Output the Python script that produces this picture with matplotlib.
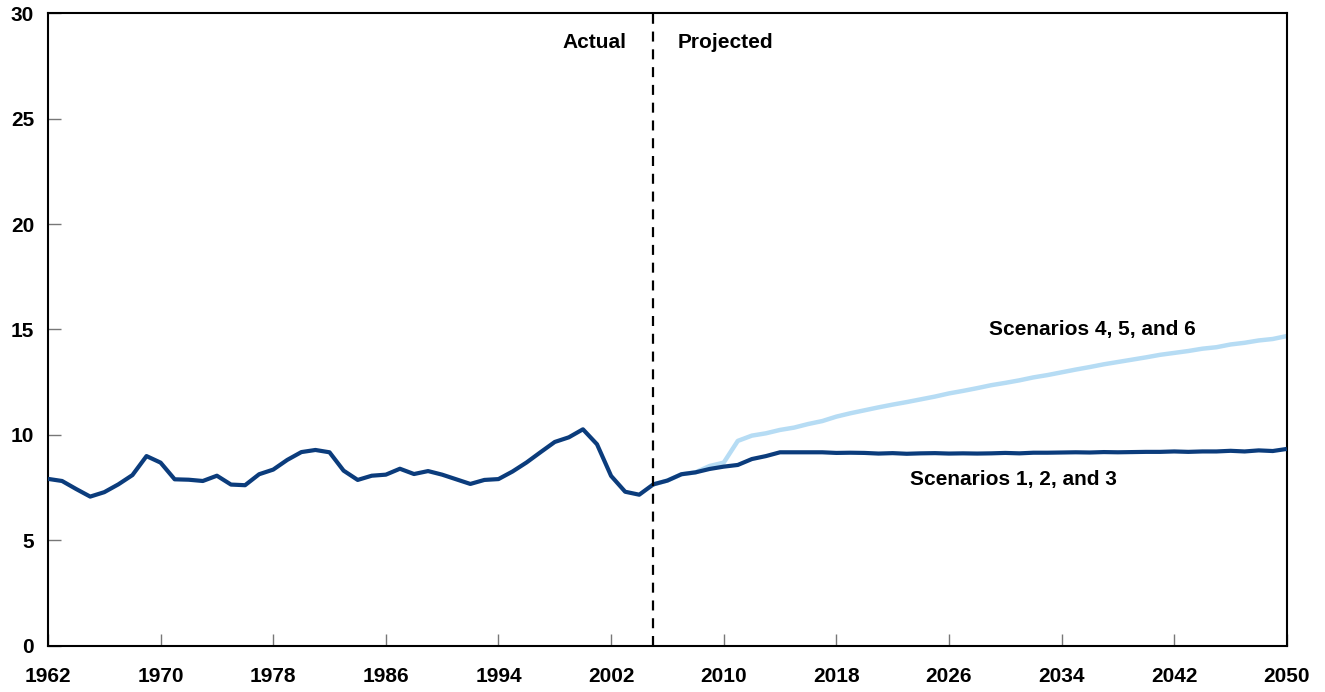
import matplotlib
matplotlib.use("Agg")
import matplotlib.pyplot as plt
import numpy as np

plt.rcParams["font.family"] = ["Liberation Sans Narrow", "Liberation Sans", "DejaVu Sans"]
plt.rcParams["font.weight"] = "bold"

# Actual, 1962-2005
actual_years = list(range(1962, 2006))
actual_vals = [7.92, 7.82, 7.44, 7.08, 7.29, 7.66, 8.10, 9.00, 8.69, 7.90,
               7.88, 7.82, 8.07, 7.65, 7.62, 8.14, 8.36, 8.82, 9.19, 9.29,
               9.18, 8.31, 7.87, 8.07, 8.12, 8.40, 8.15, 8.29, 8.12, 7.90,
               7.68, 7.87, 7.91, 8.27, 8.70, 9.19, 9.67, 9.89, 10.27, 9.56,
               8.06, 7.31, 7.17, 7.66]

# Projected, 2005-2050
proj_years = list(range(2005, 2051))
scen_123 = [7.66, 7.84, 8.14, 8.23, 8.39, 8.50, 8.58, 8.86, 9.00, 9.18,
            9.18, 9.18, 9.18, 9.15, 9.16, 9.15, 9.12, 9.14, 9.11, 9.13,
            9.14, 9.12, 9.13, 9.12, 9.13, 9.15, 9.13, 9.16, 9.16, 9.17,
            9.18, 9.17, 9.19, 9.18, 9.19, 9.20, 9.20, 9.22, 9.20, 9.22,
            9.22, 9.25, 9.22, 9.27, 9.24, 9.34]
scen_456 = [7.66, 7.84, 8.14, 8.23, 8.53, 8.69, 9.72, 9.97, 10.08, 10.24,
            10.35, 10.52, 10.66, 10.87, 11.03, 11.17, 11.31, 11.44, 11.56, 11.69,
            11.82, 11.97, 12.09, 12.22, 12.36, 12.47, 12.59, 12.73, 12.84, 12.97,
            13.10, 13.22, 13.35, 13.46, 13.57, 13.68, 13.80, 13.89, 13.98, 14.09,
            14.16, 14.29, 14.37, 14.48, 14.55, 14.69]

x_ticks = list(range(1962, 2051, 8))
y_ticks = [0, 5, 10, 15, 20, 25, 30]

DARK = "#0b3c7c"
LIGHT = "#b6dcf4"

fig = plt.figure(figsize=(13.25, 6.92), dpi=100)
ax = fig.add_axes([0.0362, 0.0665, 0.935, 0.9147])

ax.plot(proj_years, scen_456, color=LIGHT, linewidth=3.2, solid_capstyle="butt", zorder=2)
ax.plot(proj_years, scen_123, color=DARK, linewidth=3.0, solid_capstyle="butt", zorder=3)
ax.plot(actual_years, actual_vals, color=DARK, linewidth=3.0, solid_capstyle="butt", zorder=3)

ax.axvline(2005, color="black", linewidth=1.6, linestyle=(0, (4.5, 3.5)), zorder=4)

ax.text(2003.1, 28.6, "Actual", ha="right", va="center", fontsize=15, fontweight="bold")
ax.text(2006.7, 28.6, "Projected", ha="left", va="center", fontsize=15, fontweight="bold")
ax.text(2036.2, 14.98, "Scenarios 4, 5, and 6", ha="center", va="center",
        fontsize=15, fontweight="bold")
ax.text(2030.6, 7.87, "Scenarios 1, 2, and 3", ha="center", va="center",
        fontsize=15, fontweight="bold")

ax.set_xlim(1962, 2050)
ax.set_ylim(0, 30)
ax.set_xticks(x_ticks)
ax.set_yticks(y_ticks)
ax.tick_params(direction="in", length=9, width=1, color="#777777",
               labelsize=15)
ax.tick_params(axis="x", pad=15)
ax.tick_params(axis="y", pad=10)
for lab in ax.get_xticklabels() + ax.get_yticklabels():
    lab.set_fontweight("bold")

for side in ["left", "bottom", "top", "right"]:
    ax.spines[side].set_linewidth(1.5)
    ax.spines[side].set_color("black")

fig.savefig("out.png", dpi=100)
